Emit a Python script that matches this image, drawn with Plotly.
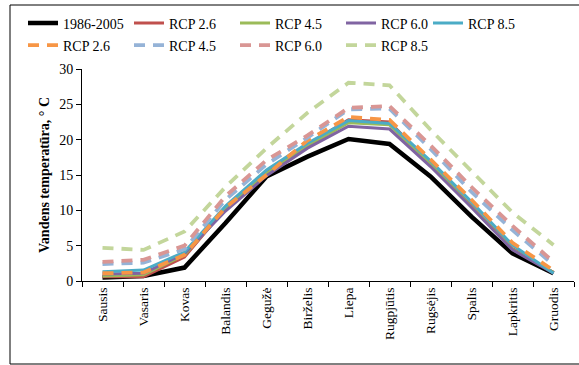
import plotly.graph_objects as go

months = ["Sausis", "Vasaris", "Kovas", "Balandis", "Gegužė", "Birželis",
          "Liepa", "Rugpjūtis", "Rugsėjis", "Spalis", "Lapkritis", "Gruodis"]

base_1986_2005 = [0.5, 0.7, 1.9, 8.2, 14.8, 17.6, 20.1, 19.4, 14.8, 9.1, 3.9, 1.1]
rcp26_solid = [0.6, 0.6, 3.4, 10.3, 15.3, 19.3, 22.8, 22.5, 16.6, 10.6, 4.6, 1.2]
rcp45_solid = [0.7, 0.9, 3.7, 10.2, 15.2, 19.1, 22.4, 22.1, 16.5, 10.5, 4.5, 1.2]
rcp60_solid = [1.0, 1.1, 3.9, 9.9, 14.9, 18.8, 21.9, 21.5, 16.2, 10.4, 4.4, 1.1]
rcp85_solid = [1.3, 1.55, 4.1, 10.6, 15.7, 19.5, 22.7, 22.3, 17.0, 11.2, 5.1, 1.1]
rcp26_dash = [1.1, 1.2, 3.7, 10.4, 15.0, 19.9, 23.2, 22.8, 17.2, 11.5, 5.4, 1.5]
rcp45_dash = [2.4, 2.6, 4.5, 11.5, 16.5, 20.3, 24.3, 24.4, 18.7, 12.6, 7.2, 2.3]
rcp60_dash = [2.7, 3.0, 5.0, 12.0, 17.1, 20.6, 24.5, 24.75, 19.2, 13.3, 7.8, 2.7]
rcp85_dash = [4.7, 4.4, 7.0, 13.3, 18.8, 23.8, 28.05, 27.7, 21.4, 15.5, 9.7, 5.1]

y_ticks = [0, 5, 10, 15, 20, 25, 30]

FONT = "Liberation Serif"

series = [
    ("1986-2005", base_1986_2005, "#000000", 4.5, "solid", "legend"),
    ("RCP 2.6", rcp26_solid, "#C0504D", 3, "solid", "legend"),
    ("RCP 4.5", rcp45_solid, "#9BBB59", 3, "solid", "legend"),
    ("RCP 6.0", rcp60_solid, "#8064A2", 3, "solid", "legend"),
    ("RCP 8.5", rcp85_solid, "#4BACC6", 3, "solid", "legend3"),
    ("RCP 2.6", rcp26_dash, "#F79646", 3.8, "11px,8px", "legend2"),
    ("RCP 4.5", rcp45_dash, "#95B3D7", 3.8, "11px,8px", "legend2"),
    ("RCP 6.0", rcp60_dash, "#D99694", 3.8, "11px,8px", "legend2"),
    ("RCP 8.5", rcp85_dash, "#C3D69B", 3.8, "11px,8px", "legend2"),
]

fig = go.Figure()
for name, vals, color, w, dash, lg in series:
    fig.add_trace(go.Scatter(x=months, y=vals, name=name, mode="lines",
                             line=dict(color=color, width=w, dash=dash),
                             legend=lg))

W, H = 579, 365
L, T, PW, PH = 82, 69, 492, 212

legend_common = dict(orientation="h", xref="container", yref="container",
                     xanchor="left", yanchor="middle", entrywidth=61,
                     font=dict(family=FONT, size=14, color="#000000"),
                     bgcolor="rgba(0,0,0,0)", itemwidth=30,
                     tracegroupgap=0)

fig.update_layout(
    width=W, height=H,
    margin=dict(l=L, r=W - L - PW, t=T, b=H - T - PH, autoexpand=False),
    paper_bgcolor="white", plot_bgcolor="white",
    font=dict(family=FONT, size=13.5, color="#000000"),
    legend=dict(x=23 / W, y=1 - 23.5 / H, **legend_common),
    legend3=dict(x=428 / W, y=1 - 23.5 / H, **legend_common),
    legend2=dict(x=23 / W, y=1 - 45.5 / H, **legend_common),
    xaxis=dict(type="category", range=[-0.5, 11.5], showline=True,
               linecolor="#000000", linewidth=1,
               ticks="outside", ticklen=5, tickcolor="#000000", tickson="boundaries",
               tickangle=-90, showgrid=False, zeroline=False,
               tickfont=dict(family=FONT, size=13.5, color="#000000")),
    yaxis=dict(range=[0, 30], tickvals=y_ticks, showline=True, linecolor="#000000",
               linewidth=1, ticks="outside", ticklen=5, tickcolor="#000000",
               showgrid=False, zeroline=False,
               tickfont=dict(family=FONT, size=14, color="#000000"),
               title=dict(text="Vandens temperatūra, ° C", standoff=6,
                          font=dict(family=FONT, size=14, weight="bold", color="#000000"))),
)

# outer chart border
fig.add_shape(type="rect", xref="paper", yref="paper",
              x0=(10 - L) / PW, x1=(W + 10 - L) / PW,
              y0=(T + PH - 364) / PH, y1=(T + PH - 5) / PH,
              line=dict(color="#000000", width=1), fillcolor="rgba(0,0,0,0)", layer="below")

fig.write_html("out.html", config={"displayModeBar": False},
               post_script="document.body.style.margin='0px';")
